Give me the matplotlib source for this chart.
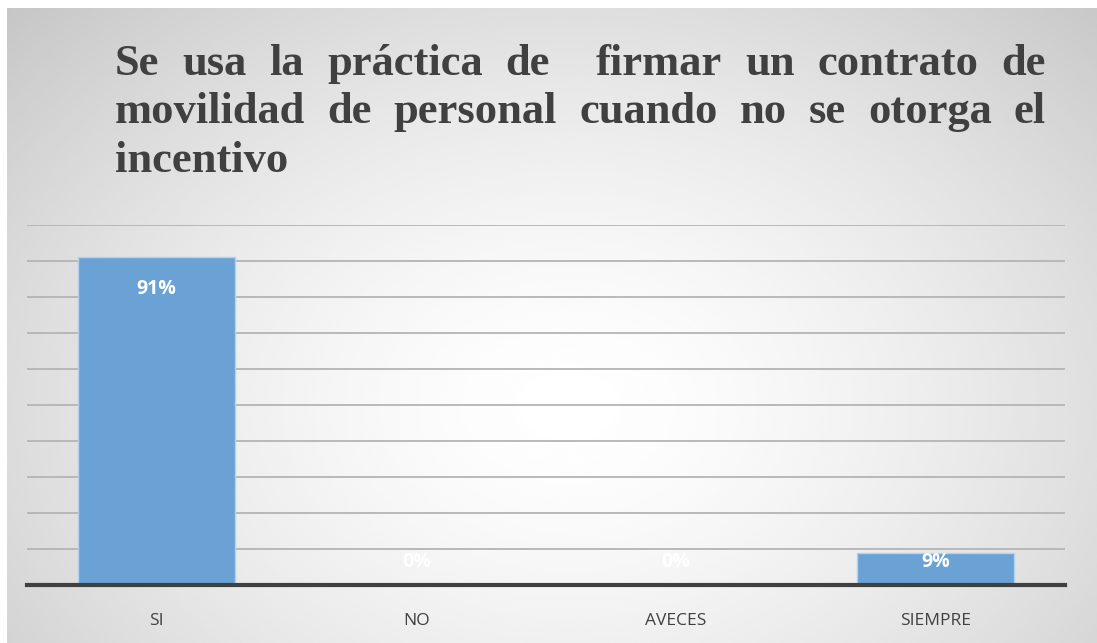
import numpy as np
import matplotlib.pyplot as plt

# datos
categorias = ['SI', 'NO', 'AVECES', 'SIEMPRE']
porcentajes = [0.91, 0.0, 0.0, 0.09]
etiquetas = ['91%', '0%', '0%', '9%']
titulo_lineas = ['Se usa la práctica de  firmar un contrato de',
                 'movilidad de personal cuando no se otorga el',
                 'incentivo']

W, H = 1097, 643
fig = plt.figure(figsize=(W / 100, H / 100), dpi=100)

# fondo con degradado radial
bg = fig.add_axes([7 / W, 0, 1 - 7 / W, 1 - 8 / H])
yy, xx = np.mgrid[0:400, 0:700]
cx, cy = 360, 250
r = np.sqrt(((xx - cx) / 520) ** 2 + ((yy - cy) / 380) ** 2)
r = np.clip(r, 0, 1)
val = 1.0 - 0.24 * r ** 1.5
bg.imshow(val, cmap='gray', vmin=0, vmax=1, aspect='auto', extent=[0, 1, 0, 1], interpolation='bicubic')
bg.axis('off')

ax = fig.add_axes([27 / W, 1 - 585 / H, (1065 - 27) / W, (585 - 225) / H])
ax.patch.set_alpha(0)
x = np.arange(len(categorias))
bars = ax.bar(x, porcentajes, width=0.605, color='#6aa2d6', edgecolor='#b5d0ec', linewidth=1, zorder=3)

ax.set_xlim(-0.5, 3.5)
ax.set_ylim(0, 1.0)
ax.set_yticks(np.arange(0, 1.01, 0.1))
ax.yaxis.grid(True, color='#b4b4b4', linewidth=1.3, zorder=0)
ax.set_axisbelow(True)
ax.tick_params(axis='y', left=False, labelleft=False)
ax.tick_params(axis='x', bottom=False, pad=17, labelsize=12.5, labelcolor='#404040')
ax.set_xticks(x)
ax.set_xticklabels(categorias, fontfamily='Open Sans')
for s in ['top', 'right', 'left']:
    ax.spines[s].set_visible(False)
ax.spines['bottom'].set_color('#404040')
ax.spines['bottom'].set_linewidth(3)
ax.spines['bottom'].set_zorder(4)

for xi, v, lab in zip(x, porcentajes, etiquetas):
    ax.text(xi, max(v - 0.088, 0.064), lab, ha='center', va='center', color='white',
            fontsize=14, fontweight='bold', fontfamily='Open Sans', zorder=5)

# titulo justificado
renderer = fig.canvas.get_renderer()
x0, x1 = 115, 1046
bases = [75, 123, 172]
fs = 32
for i, linea in enumerate(titulo_lineas):
    palabras = linea.split(' ')
    ts = []
    for p in palabras:
        t = fig.text(0, 0, p, fontsize=fs, fontweight='bold', fontfamily='Liberation Serif',
                     color='#404040', va='baseline', ha='left')
        ts.append(t)
    anchos = [t.get_window_extent(renderer).width if p else 0 for t, p in zip(ts, palabras)]
    if i < len(titulo_lineas) - 1:
        hueco = (x1 - x0 - sum(anchos)) / (len(palabras) - 1)
    else:
        hueco = fs * 0.3
    pos = x0
    for t, w in zip(ts, anchos):
        t.set_position((pos / W, 1 - bases[i] / H))
        pos += w + hueco

fig.savefig('out.png', dpi=100)
